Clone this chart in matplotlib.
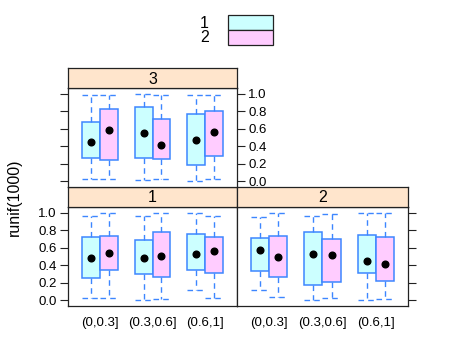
import matplotlib
matplotlib.use("Agg")
import matplotlib.pyplot as plt
from matplotlib.patches import Rectangle

plt.rcParams['font.family'] = ['Liberation Sans', 'DejaVu Sans']

cats = ['(0,0.3]', '(0.3,0.6]', '(0.6,1]']
groups = ['1', '2']
group_fill = ['#CCFFFF', '#FFCCFF']

# five-number summaries: [lower whisker, q1, median, q3, upper whisker]
panel1_g1 = [[0.02, 0.25, 0.48, 0.72, 0.96], [0.005, 0.305, 0.485, 0.69, 0.96], [0.115, 0.34, 0.525, 0.76, 1.0]]
panel1_g2 = [[0.03, 0.345, 0.545, 0.73, 1.0], [0.01, 0.27, 0.505, 0.78, 1.0], [0.02, 0.317, 0.567, 0.72, 0.96]]
panel2_g1 = [[0.115, 0.333, 0.57, 0.708, 0.95], [0.0, 0.172, 0.532, 0.78, 0.96], [0.005, 0.306, 0.452, 0.747, 1.0]]
panel2_g2 = [[0.04, 0.264, 0.494, 0.735, 1.0], [0.027, 0.214, 0.513, 0.70, 0.985], [0.01, 0.222, 0.417, 0.724, 1.0]]
panel3_g1 = [[0.02, 0.263, 0.446, 0.672, 0.985], [0.01, 0.26, 0.546, 0.85, 1.0], [0.0, 0.187, 0.477, 0.767, 0.985]]
panel3_g2 = [[0.02, 0.24, 0.584, 0.824, 0.985], [0.03, 0.256, 0.412, 0.717, 0.99], [0.03, 0.294, 0.565, 0.805, 0.99]]

panels = {'1': [panel1_g1, panel1_g2], '2': [panel2_g1, panel2_g2], '3': [panel3_g1, panel3_g2]}
yticks = [0.0, 0.2, 0.4, 0.6, 0.8, 1.0]

W, H = 464, 355
fig = plt.figure(figsize=(W / 100, H / 100), dpi=100)


def px_axes(x0, y0, x1, y1):
    return fig.add_axes([x0 / W, 1 - y1 / H, (x1 - x0) / W, (y1 - y0) / H])


# pixel boxes of the panels (x0, y0, x1, y1)
layout = {'1': (68, 207, 237, 306), '2': (237, 207, 408, 306), '3': (68, 88, 237, 187)}
bw = 0.34
blue = '#3D86FF'

for name, (x0, y0, x1, y1) in layout.items():
    ax = px_axes(x0, y0, x1, y1)
    for gi, data in enumerate(panels[name]):
        stats = []
        for s in data:
            stats.append({'whislo': s[0], 'q1': s[1], 'med': s[2], 'q3': s[3], 'whishi': s[4]})
        pos = [i + 1 + (gi - 0.5) * bw for i in range(len(cats))]
        ax.bxp(stats, positions=pos, widths=bw, capwidths=bw, patch_artist=True,
               showfliers=False, manage_ticks=False,
               boxprops=dict(facecolor=group_fill[gi], edgecolor=blue, linewidth=1.1),
               whiskerprops=dict(color=blue, linestyle=(0, (4, 3)), linewidth=1.0),
               capprops=dict(color=blue, linestyle=(0, (4, 3)), linewidth=1.0),
               medianprops=dict(linewidth=0))
        ax.plot(pos, [s[2] for s in data], 'o', color='black', markersize=4.8, zorder=5)
    ax.set_xlim(0.4, 3.6)
    ax.set_ylim(-0.066, 1.066)
    ax.set_yticks(yticks)
    ax.set_yticklabels(['%.1f' % v for v in yticks])
    for sp in ax.spines.values():
        sp.set_color('#222222')
        sp.set_linewidth(0.9)
    ax.tick_params(axis='y', direction='out', length=6, width=0.8, color='#222222',
                   labelsize=9.5, pad=2)
    ax.set_xticks([1, 2, 3])
    if name in ('1', '2'):
        ax.set_xticklabels(cats, fontsize=9.5)
        ax.tick_params(axis='x', length=0, pad=8)
    else:
        ax.tick_params(axis='x', length=0, labelbottom=False)
    if name == '1':
        ax.tick_params(axis='y', left=True, labelleft=True, right=False)
    elif name == '2':
        ax.tick_params(axis='y', left=False, labelleft=False, right=True, labelright=False)
    else:
        ax.tick_params(axis='y', left=True, labelleft=False, right=True, labelright=True)

    # strip
    sa = px_axes(x0, y0 - 20, x1, y0)
    sa.set_facecolor('#FFE5CC')
    sa.set_xticks([])
    sa.set_yticks([])
    for sp in sa.spines.values():
        sp.set_color('#222222')
        sp.set_linewidth(0.9)
    sa.text(0.5, 0.45, name, ha='center', va='center', fontsize=11.5, transform=sa.transAxes)

fig.text(14 / W, 1 - 197 / H, 'runif(1000)', rotation=90, ha='center', va='center', fontsize=11.5)

# key
for gi, g in enumerate(groups):
    ytop = 15 + gi * 15
    fig.patches.append(Rectangle((228 / W, 1 - (ytop + 15) / H), 45 / W, 15 / H,
                                 transform=fig.transFigure, facecolor=group_fill[gi],
                                 edgecolor='#222222', linewidth=0.9))
    fig.text(209 / W, 1 - (ytop + 8) / H, g, ha='right', va='center', fontsize=11.5)

fig.savefig('out.png', dpi=100)
